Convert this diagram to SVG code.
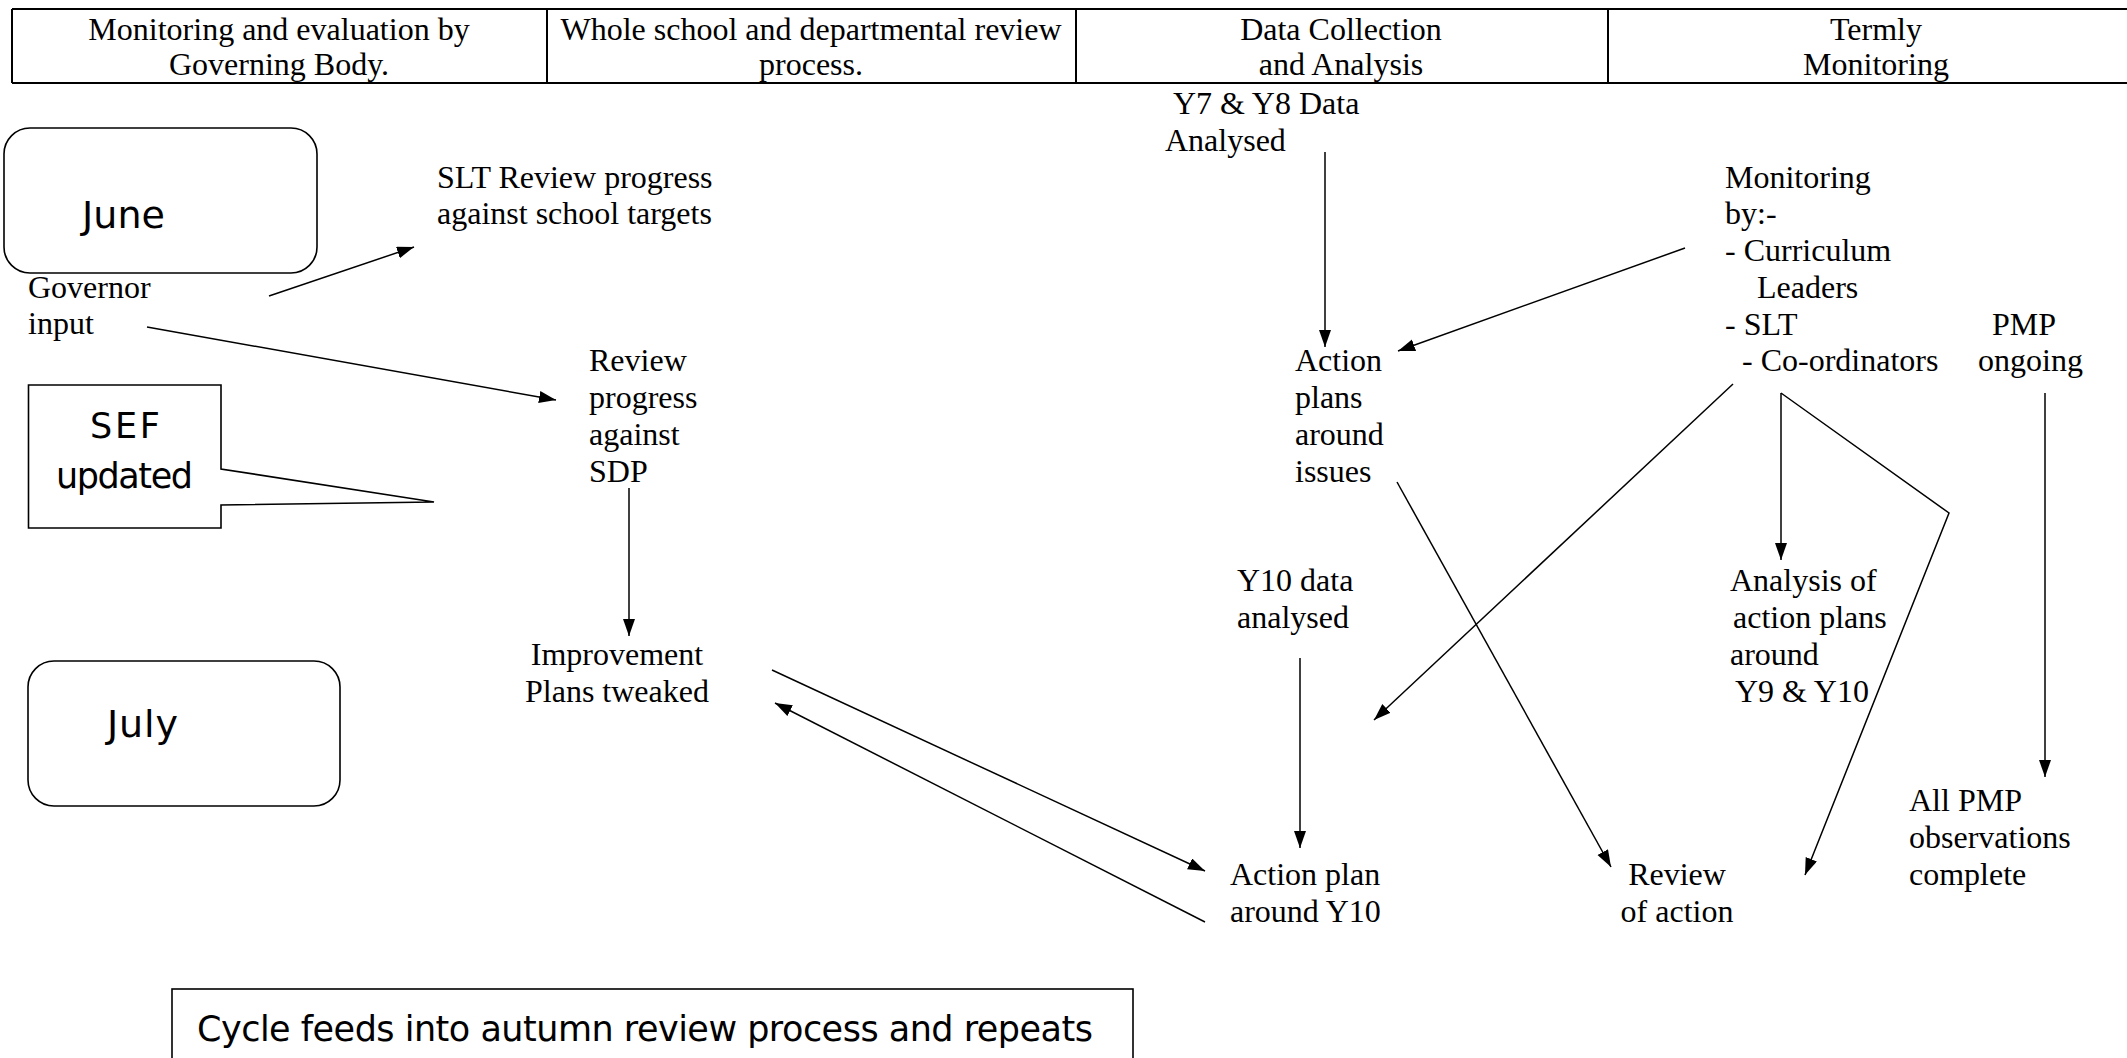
<svg xmlns="http://www.w3.org/2000/svg" width="2127" height="1058" viewBox="0 0 2127 1058">
<defs>
<marker id="arr" markerUnits="userSpaceOnUse" markerWidth="20" markerHeight="14" refX="17" refY="6" orient="auto">
<path d="M0,0 L17,6 L0,12 Z" fill="#000"/>
</marker>
<style>
.t{font-family:"Liberation Serif","Times New Roman",serif;font-size:32px;fill:#000}
.c{text-anchor:middle}
.k{font-family:"DejaVu Sans","Noto Sans",sans-serif;font-size:35px;fill:#000}
.m{font-size:38px}
.b{fill:none;stroke:#000;stroke-width:1.6}
.ln{fill:none;stroke:#000;stroke-width:1.5}
.a{marker-end:url(#arr)}
.tb{fill:none;stroke:#000;stroke-width:2}
</style>
</defs>
<rect width="2127" height="1058" fill="#fff"/>

<g id="header">
<path class="tb" d="M12,9 H2127 M12,83 H2127 M12,9 V83 M547,9 V83 M1076,9 V83 M1608,9 V83"/>
<text class="t c" x="279" y="40">Monitoring and evaluation by</text>
<text class="t c" x="279" y="75">Governing Body.</text>
<text class="t c" x="811" y="40">Whole school and departmental review</text>
<text class="t c" x="811" y="75">process.</text>
<text class="t c" x="1341" y="40">Data Collection</text>
<text class="t c" x="1341" y="75">and Analysis</text>
<text class="t c" x="1876" y="40">Termly</text>
<text class="t c" x="1876" y="75">Monitoring</text>
</g>

<g id="june">
<rect class="b" x="4" y="128" width="313" height="145" rx="26"/>
<text class="k m" x="82" y="228" textLength="83">June</text>
</g>
<g id="july">
<rect class="b" x="28" y="661" width="312" height="145" rx="26"/>
<text class="k m" x="107" y="737" textLength="71">July</text>
</g>
<g id="sef">
<path class="b" d="M28.5,385 H221 V469 L434,502 L221,505 V528 H28.5 Z"/>
<text class="k" x="90" y="438" textLength="70">SEF</text>
<text class="k" x="56" y="488" textLength="137">updated</text>
</g>
<g id="cycle">
<rect class="b" x="172" y="989" width="961" height="100"/>
<text class="k" x="197" y="1041" textLength="896">Cycle feeds into autumn review process and repeats</text>
</g>

<g id="governor">
<text class="t" x="28" y="298">Governor</text>
<text class="t" x="28" y="334">input</text>
</g>
<g id="slt-review">
<text class="t" x="437" y="188">SLT Review progress</text>
<text class="t" x="437" y="224">against school targets</text>
</g>
<g id="review-sdp">
<text class="t" x="589" y="371">Review</text>
<text class="t" x="589" y="408">progress</text>
<text class="t" x="589" y="445">against</text>
<text class="t" x="589" y="482">SDP</text>
</g>
<g id="improvement">
<text class="t c" x="617" y="665">Improvement</text>
<text class="t c" x="617" y="702">Plans tweaked</text>
</g>
<g id="y7y8">
<text class="t" x="1173" y="114">Y7 &amp; Y8 Data</text>
<text class="t" x="1165" y="151">Analysed</text>
</g>
<g id="action-plans">
<text class="t" x="1295" y="371">Action</text>
<text class="t" x="1295" y="408">plans</text>
<text class="t" x="1295" y="445">around</text>
<text class="t" x="1295" y="482">issues</text>
</g>
<g id="y10data">
<text class="t" x="1237" y="591">Y10 data</text>
<text class="t" x="1237" y="628">analysed</text>
</g>
<g id="action-y10">
<text class="t" x="1230" y="885">Action plan</text>
<text class="t" x="1230" y="922">around Y10</text>
</g>
<g id="review-action">
<text class="t c" x="1677" y="885">Review</text>
<text class="t c" x="1677" y="922">of action</text>
</g>
<g id="monitoring">
<text class="t" x="1725" y="188">Monitoring</text>
<text class="t" x="1725" y="224">by:-</text>
<text class="t" x="1725" y="261">- Curriculum</text>
<text class="t" x="1757" y="298">Leaders</text>
<text class="t" x="1725" y="335">- SLT</text>
<text class="t" x="1742" y="371">- Co-ordinators</text>
</g>
<g id="pmp">
<text class="t" x="1992" y="335">PMP</text>
<text class="t" x="1978" y="371">ongoing</text>
</g>
<g id="analysis">
<text class="t" x="1730" y="591">Analysis of</text>
<text class="t" x="1733" y="628">action plans</text>
<text class="t" x="1730" y="665">around</text>
<text class="t" x="1735" y="702">Y9 &amp; Y10</text>
</g>
<g id="allpmp">
<text class="t" x="1909" y="811">All PMP</text>
<text class="t" x="1909" y="848">observations</text>
<text class="t" x="1909" y="885">complete</text>
</g>

<g id="connectors">
<line class="ln a" x1="269" y1="296" x2="414" y2="247"/>
<line class="ln a" x1="147" y1="327" x2="556" y2="400"/>
<line class="ln a" x1="629" y1="488" x2="629" y2="636"/>
<line class="ln a" x1="772" y1="670" x2="1205" y2="871"/>
<line class="ln a" x1="1205" y1="922" x2="775" y2="703"/>
<line class="ln a" x1="1325" y1="152" x2="1325" y2="347"/>
<line class="ln a" x1="1685" y1="248" x2="1398" y2="351"/>
<line class="ln a" x1="1733" y1="384" x2="1374" y2="720"/>
<line class="ln a" x1="1397" y1="482" x2="1611" y2="867"/>
<line class="ln a" x1="1781" y1="393" x2="1781" y2="560"/>
<polyline class="ln a" points="1781,393 1949,513 1805,875"/>
<line class="ln a" x1="1300" y1="658" x2="1300" y2="848"/>
<line class="ln a" x1="2045" y1="393" x2="2045" y2="777"/>
</g>
</svg>
